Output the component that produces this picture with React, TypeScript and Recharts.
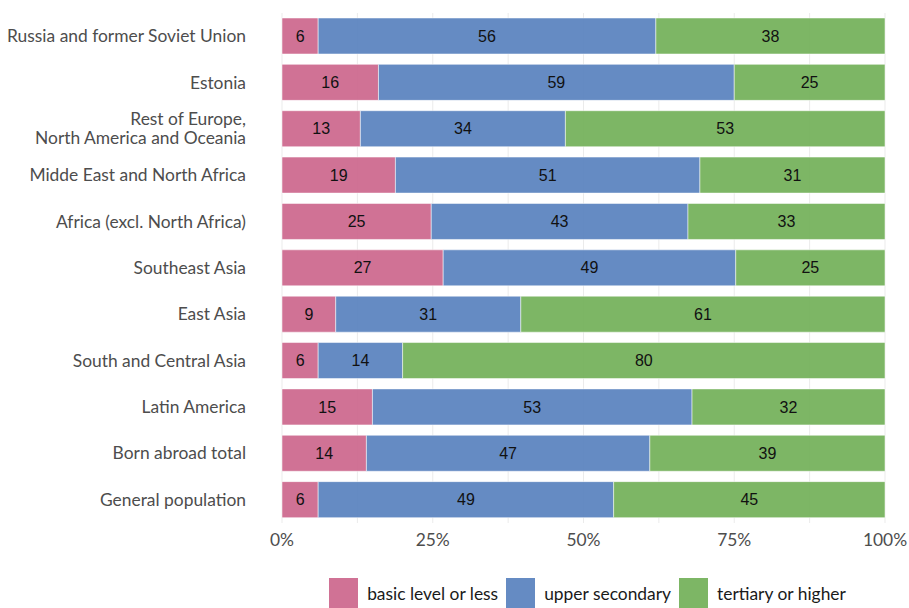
import React from 'react';
import { BarChart, Bar, XAxis, YAxis, CartesianGrid, LabelList, Legend } from 'recharts';

const categories = [
  'Russia and former Soviet Union',
  'Estonia',
  'Rest of Europe,\nNorth America and Oceania',
  'Midde East and North Africa',
  'Africa (excl. North Africa)',
  'Southeast Asia',
  'East Asia',
  'South and Central Asia',
  'Latin America',
  'Born abroad total',
  'General population',
];
const basic = [6, 16, 13, 19, 25, 27, 9, 6, 15, 14, 6];
const upper = [56, 59, 34, 51, 43, 49, 31, 14, 53, 47, 49];
const tertiary = [38, 25, 53, 31, 33, 25, 61, 80, 32, 39, 45];
const seriesNames = ['basic level or less', 'upper secondary', 'tertiary or higher'];
const seriesKeys = ['basic', 'upper', 'tertiary'];
const seriesColors = ['#cd6a8f', '#5d85c0', '#76b25d'];
const xTicks = [0, 0.125, 0.25, 0.375, 0.5, 0.625, 0.75, 0.875, 1];
const xTickLabels = ['0%', '', '25%', '', '50%', '', '75%', '', '100%'];

const data = categories.map((c, i) => ({
  category: c,
  basic: basic[i],
  upper: upper[i],
  tertiary: tertiary[i],
}));

const AXIS_FONT = '"Source Sans Pro", Lato, "Noto Sans", sans-serif';
const FS = 17.4;

const YTick = (props: any) => {
  const { x, y, payload } = props;
  const lines = String(payload.value).split('\n');
  const n = lines.length;
  return (
    <text x={x} y={y} textAnchor="end" fill="#4d4d4d" fontSize={FS} fontFamily={AXIS_FONT}>
      {lines.map((l, i) => (
        <tspan key={i} x={x} y={y + (i - (n - 1) / 2) * 19 + 6}>
          {l}
        </tspan>
      ))}
    </text>
  );
};

const XTick = (props: any) => {
  const { x, y, index } = props;
  const label = xTickLabels[index];
  if (!label) return null;
  return (
    <text x={x} y={y + 23} textAnchor="middle" fill="#4d4d4d" fontSize={FS} fontFamily={AXIS_FONT}>
      {label}
    </text>
  );
};

const LegendContent = () => (
  <div
    style={{
      display: 'flex',
      justifyContent: 'center',
      alignItems: 'center',
      fontFamily: AXIS_FONT,
      fontSize: FS,
      color: '#1a1a1a',
      height: 30,
    }}
  >
    {seriesNames.map((n, i) => (
      <div key={n} style={{ display: 'flex', alignItems: 'center', marginRight: i < 2 ? 8 : 0 }}>
        <div style={{ width: 29, height: 30, background: seriesColors[i], opacity: 0.95, marginRight: 9 }} />
        <span>{n}</span>
      </div>
    ))}
  </div>
);

export default function App() {
  return (
    <div style={{ position: 'absolute', left: 0, top: 0 }}>
      <BarChart
        width={909}
        height={608}
        data={data}
        layout="vertical"
        stackOffset="expand"
        barSize={36}
        margin={{ top: 13, right: 24, left: 0, bottom: 0 }}
      >
        <CartesianGrid horizontal={false} vertical stroke="#ebebeb" strokeWidth={1} />
        <XAxis
          type="number"
          domain={[0, 1]}
          ticks={xTicks}
          interval={0}
          axisLine={false}
          tickLine={false}
          tickSize={0}
          tickMargin={0}
          height={55}
          tick={<XTick />}
        />
        <YAxis
          type="category"
          dataKey="category"
          width={282}
          axisLine={false}
          tickLine={false}
          tickSize={0}
          tickMargin={36}
          interval={0}
          tick={<YTick />}
        />
        <Legend verticalAlign="bottom" height={30} wrapperStyle={{ left: 286, width: 603 }} content={<LegendContent />} />
        {seriesKeys.map((k, i) => (
          <Bar
            key={k}
            dataKey={k}
            name={seriesNames[i]}
            stackId="a"
            fill={seriesColors[i]}
            fillOpacity={0.95}
            stroke="#ffffff"
            strokeOpacity={0.5}
            strokeWidth={1}
            isAnimationActive={false}
          >
            <LabelList
              dataKey={k}
              position="center"
              fill="#111111"
              fontSize={16}
              fontFamily='"Liberation Sans", Arial, sans-serif'
            />
          </Bar>
        ))}
      </BarChart>
    </div>
  );
}
